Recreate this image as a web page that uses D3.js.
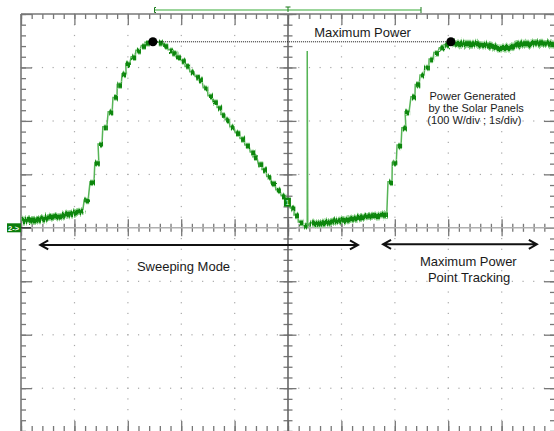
<!DOCTYPE html>
<html>
<head>
  <title>solar panel power - sweep and MPPT</title>
  <script src="https://d3js.org/d3.v7.min.js"></script>
  <style>
    body { margin: 0; background: #fff; }
    svg { display: block; font-family: "Liberation Sans", Arial, sans-serif; }
  </style>
</head>
<body>
  <div id="scope"></div>
  <script type="text/javascript">
    // time in s (1 s/div), power in W (100 W/div)
    var baseSweep = [[0, 15], [0.26, 17], [0.54, 21], [0.82, 26], [1.16, 34]]
    var sweepUp = [[1.22, 52], [1.33, 86], [1.42, 122], [1.48, 157], [1.57, 189], [1.67, 217], [1.76, 244],
      [1.84, 268], [1.93, 288], [2.00, 307], [2.10, 320], [2.19, 332], [2.29, 341], [2.36, 347]]
    var sweepDown = [[2.60, 347], [2.70, 341], [2.79, 333], [2.87, 328], [2.94, 320], [3.03, 313], [3.11, 302],
      [3.20, 292], [3.30, 283], [3.35, 277], [3.45, 262], [3.54, 247], [3.63, 236], [3.71, 225], [3.78, 212],
      [3.86, 202], [3.95, 189], [4.05, 178], [4.14, 167], [4.23, 155], [4.33, 142], [4.38, 133], [4.48, 120],
      [4.55, 109], [4.64, 96], [4.72, 84], [4.81, 71], [4.91, 60], [4.98, 49], [5.08, 37], [5.15, 24],
      [5.23, 11], [5.32, 4]]
    var spike = [[5.36, 2], [5.36, 331], [5.37, 3]]
    var baseTrack = [[5.41, 9], [5.84, 13], [6.16, 19], [6.48, 24], [6.85, 26]]
    var trackUp = [[6.91, 86], [6.99, 122], [7.08, 155], [7.17, 187], [7.23, 217], [7.34, 245], [7.42, 268],
      [7.51, 286], [7.60, 301], [7.68, 316], [7.77, 328], [7.87, 337], [7.96, 343]]
    var mppPlateau = [[8.05, 348], [8.24, 346], [8.54, 346], [8.73, 344], [8.91, 339], [9.10, 339], [9.29, 346],
      [9.48, 346], [9.74, 348], [10, 346]]
    var maxPoints = [[2.47, 348], [8.05, 348]]

    var labels = [
      { text: "Maximum Power", t: 5.49, p: 357, size: 13 },
      { text: "Sweeping Mode", t: 2.17, p: -81, size: 13 },
      { text: "Maximum Power", t: 7.47, p: -72, size: 13 },
      { text: "Point Tracking", t: 7.62, p: -101, size: 13 },
      { text: "Power Generated", t: 7.65, p: 240, size: 11 },
      { text: "by the Solar Panels", t: 7.63, p: 217, size: 11 },
      { text: "(100 W/div ; 1s/div)", t: 7.61, p: 194, size: 11 }
    ]
    var arrows = [[0.36, 6.31, -32], [6.78, 9.66, -31]]

    var W = 554, H = 431
    var minor = 5
    var svg = d3.select("#scope").append("svg").attr("width", W).attr("height", H)

    var x = d3.scaleLinear().domain([0, 10]).range([21, 555])
    var y = d3.scaleLinear().domain([-400, 400]).range([441.6, 14])

    var green = "#0b860b", halo = "#93d293", thin = "#56b456", tick = "#777"

    // jitter so the thick trace looks like a sampled, noisy signal
    var defs = svg.append("defs")
    function noiseFilter(id, scale) {
      var flt = defs.append("filter").attr("id", id).attr("x", "-5%").attr("y", "-50%").attr("width", "110%").attr("height", "200%")
      flt.append("feTurbulence").attr("type", "turbulence").attr("baseFrequency", "0.9 0.02").attr("numOctaves", 2)
        .attr("seed", 3).attr("result", "t")
      flt.append("feDisplacementMap").attr("in", "SourceGraphic").attr("in2", "t").attr("scale", scale)
        .attr("xChannelSelector", "B").attr("yChannelSelector", "R")
    }
    noiseFilter("noise", 5)
    noiseFilter("noiseSmall", 3)

    // dotted graticule
    var majT = d3.range(1, 10), majP = [-300, -200, -100, 100, 200, 300]
    var dots = svg.append("g").attr("fill", "#a8a8a8")
    majP.forEach(p => {
      d3.range(0, 50).forEach(i => {
        dots.append("rect").attr("x", x(i / minor) - 0.5).attr("y", y(p) - 0.5).attr("width", 1.2).attr("height", 1.2)
      })
    })
    majT.filter(t => t != 5).forEach(t => {
      d3.range(-20, 21).forEach(i => {
        dots.append("rect").attr("x", x(t) - 0.5).attr("y", y(i * 20) - 0.5).attr("width", 1.2).attr("height", 1.2)
      })
    })

    var minorT = d3.range(0, 51).map(i => i / minor)
    var minorP = d3.range(-20, 21).map(i => i * 20)
    var majorT = d3.range(0, 11)
    var majorP = d3.range(-4, 5).map(i => i * 100)

    function ticks(axis, scale, vals, size, tr) {
      var g = svg.append("g").attr("transform", tr)
        .call(axis(scale).tickValues(vals).tickSize(size).tickSizeOuter(0).tickFormat(""))
      g.select(".domain").remove()
      g.selectAll("line").attr("stroke", tick).attr("stroke-width", 1.3)
      return g
    }
    // border ticks
    ticks(d3.axisBottom, x, minorT, 5, "translate(0,14)")
    ticks(d3.axisBottom, x, majorT, 11, "translate(0,14)")
    ticks(d3.axisTop, x, minorT, 5, "translate(0,431)")
    ticks(d3.axisTop, x, majorT, 10, "translate(0,431)")
    ticks(d3.axisRight, y, minorP, 5, "translate(21,0)")
    ticks(d3.axisRight, y, majorP, 11, "translate(21,0)")
    ticks(d3.axisLeft, y, minorP, 5, "translate(555,0)")
    ticks(d3.axisLeft, y, majorP, 11, "translate(555,0)")
    // centre axes, ticks on both sides
    ticks(d3.axisBottom, x, minorT, 4, "translate(0," + y(0) + ")")
    ticks(d3.axisTop, x, minorT, 4, "translate(0," + y(0) + ")")
    ticks(d3.axisBottom, x, majorT, 8.5, "translate(0," + y(0) + ")")
    ticks(d3.axisTop, x, majorT, 8.5, "translate(0," + y(0) + ")")
    ticks(d3.axisRight, y, minorP, 4.5, "translate(" + x(5) + ",0)")
    ticks(d3.axisLeft, y, minorP, 4.5, "translate(" + x(5) + ",0)")
    ticks(d3.axisRight, y, majorP, 8.5, "translate(" + x(5) + ",0)")
    ticks(d3.axisLeft, y, majorP, 8.5, "translate(" + x(5) + ",0)")

    svg.append("line").attr("x1", x(0)).attr("x2", 555).attr("y1", y(0)).attr("y2", y(0))
      .attr("stroke", "#b0b0b0").attr("stroke-width", 1.6)
    svg.append("line").attr("x1", x(5)).attr("x2", x(5)).attr("y1", 14).attr("y2", H)
      .attr("stroke", "#666").attr("stroke-width", 1.6)
    svg.append("line").attr("x1", x(0)).attr("x2", 555).attr("y1", 14).attr("y2", 14)
      .attr("stroke", "#777").attr("stroke-width", 1.6)
    svg.append("line").attr("x1", x(0)).attr("x2", x(0)).attr("y1", 14).attr("y2", H)
      .attr("stroke", "#777").attr("stroke-width", 1.6)

    // trigger / record bar on top
    var recBar = svg.append("g")
    recBar.append("line").attr("x1", 154).attr("x2", 421).attr("y1", 10).attr("y2", 10)
      .attr("stroke", "#9bd59b").attr("stroke-width", 2)
    recBar.append("path").attr("d", "M156,7.5H154.5V12.5H156").attr("fill", "none").attr("stroke", "#1b7a1b")
    recBar.append("line").attr("x1", 421).attr("x2", 421).attr("y1", 7).attr("y2", 13).attr("stroke", "#1b7a1b")
    recBar.append("path").attr("d", "M" + (x(5) - 2.5) + ",7H" + (x(5) + 2.5) + "M" + x(5) + ",7V12")
      .attr("fill", "none").attr("stroke", "#1b7a1b")

    // channel 2 ground marker
    svg.append("rect").attr("x", 7).attr("y", y(0) - 4.5).attr("width", 14).attr("height", 9).attr("fill", "#0b7d0b")
    svg.append("text").attr("x", 8).attr("y", y(0) + 3).attr("fill", "#fff").attr("font-size", 7.5)
      .attr("font-weight", "bold").text("2->")
    svg.append("line").attr("x1", 21).attr("x2", 31).attr("y1", y(0)).attr("y2", y(0))
      .attr("stroke", "#222").attr("stroke-width", 1.2)

    // trace
    var trace = svg.append("g")
    var line = d3.line().x(d => d[0]).y(d => d[1])
    var pts = d => d.map(p => [x(p[0]), y(p[1])])
    var half = 2
    function stepPts(arr) {
      var out = []
      arr.forEach(p => { out.push([x(p[0]) - half, y(p[1])]); out.push([x(p[0]) + half, y(p[1])]) })
      return out
    }
    var full = pts(baseSweep).concat(stepPts(sweepUp), stepPts(maxPoints.slice(0, 1)), stepPts(sweepDown),
      pts(spike), pts(baseTrack), stepPts(trackUp), pts(mppPlateau))
    trace.append("path").attr("d", line(full)).attr("fill", "none").attr("stroke", thin).attr("stroke-width", 1.5)

    var fuzzy = trace.append("g").attr("filter", "url(#noise)")
    ;[baseSweep, baseTrack, mppPlateau].forEach(seg => {
      fuzzy.append("path").attr("d", line(pts(seg))).attr("fill", "none").attr("stroke", halo)
        .attr("stroke-width", 8).attr("stroke-linejoin", "round")
      fuzzy.append("path").attr("d", line(pts(seg))).attr("fill", "none").attr("stroke", green)
        .attr("stroke-width", 5).attr("stroke-linejoin", "round")
    })
    var steps = trace.append("g").attr("filter", "url(#noiseSmall)")
    ;[sweepUp, sweepDown, trackUp].forEach(seg => {
      seg.forEach(p => {
        steps.append("line").attr("x1", x(p[0]) - half).attr("x2", x(p[0]) + half)
          .attr("y1", y(p[1])).attr("y2", y(p[1])).attr("stroke", halo).attr("stroke-width", 6.5)
      })
      seg.forEach(p => {
        steps.append("line").attr("x1", x(p[0]) - half).attr("x2", x(p[0]) + half)
          .attr("y1", y(p[1])).attr("y2", y(p[1])).attr("stroke", green).attr("stroke-width", 4.5)
      })
    })
    // little "1" marker near the end of the sweep
    trace.append("rect").attr("x", x(4.98) - 3).attr("y", y(49) - 4).attr("width", 7).attr("height", 9).attr("fill", green)
    trace.append("text").attr("x", x(4.98) + 0.5).attr("y", y(49) + 3).attr("text-anchor", "middle")
      .attr("fill", "#dfffdf").attr("font-size", 7).text("1")

    // maximum power markers
    svg.append("line").attr("x1", x(maxPoints[0][0])).attr("x2", x(maxPoints[1][0]))
      .attr("y1", y(maxPoints[0][1])).attr("y2", y(maxPoints[1][1]))
      .attr("stroke", "#111").attr("stroke-width", 1).attr("stroke-dasharray", "1,1")
    svg.selectAll(".maxpt").data(maxPoints).enter().append("circle").attr("class", "maxpt")
      .attr("cx", d => x(d[0])).attr("cy", d => y(d[1])).attr("r", 4.5).attr("fill", "#000")

    // arrows
    arrows.forEach(a => {
      var x1 = x(a[0]), x2 = x(a[1]), yy = y(a[2])
      svg.append("path")
        .attr("d", "M" + x1 + "," + yy + "H" + x2 + "M" + (x1 + 8) + "," + (yy - 4.5) + "L" + x1 + "," + yy + "L" + (x1 + 8) + "," + (yy + 4.5)
          + "M" + (x2 - 8) + "," + (yy - 4.5) + "L" + x2 + "," + yy + "L" + (x2 - 8) + "," + (yy + 4.5))
        .attr("fill", "none").attr("stroke", "#111").attr("stroke-width", 2)
    })

    svg.selectAll(".lbl").data(labels).enter().append("text").attr("class", "lbl")
      .attr("x", d => x(d.t)).attr("y", d => y(d.p)).attr("font-size", d => d.size)
      .attr("fill", "#1a1a1a").text(d => d.text)
  </script>
</body>
</html>
